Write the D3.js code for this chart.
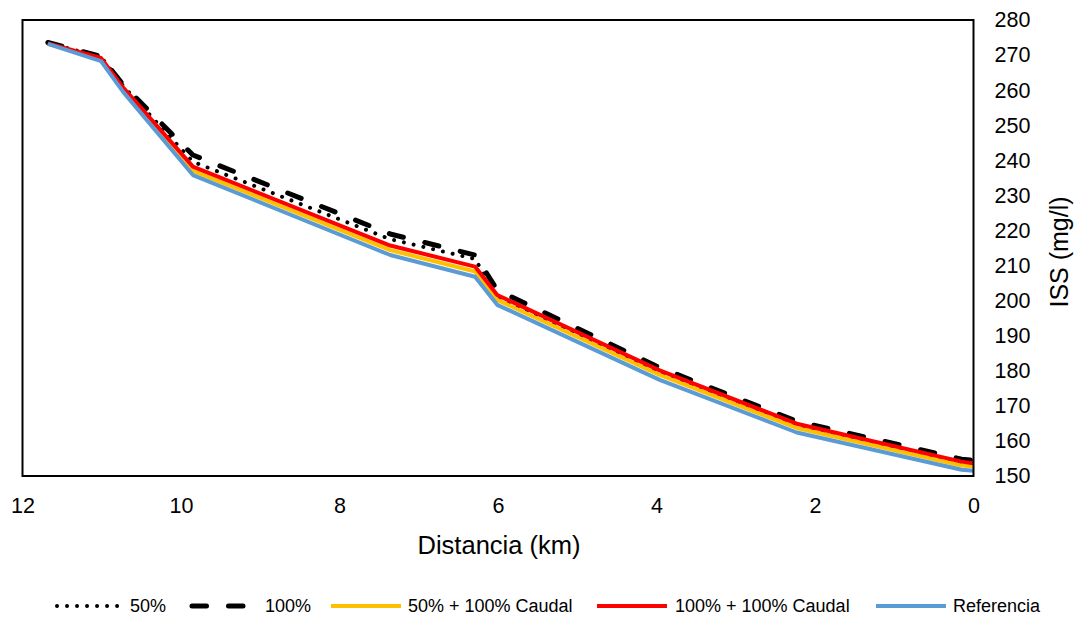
<!DOCTYPE html>
<html>
<head>
<meta charset="utf-8">
<script src="https://cdn.jsdelivr.net/npm/d3@7"></script>
<style>
  body { margin: 0; background: #fff; }
  svg { display: block; font-family: "Liberation Sans", Arial, sans-serif; }
</style>
</head>
<body>
<svg id="chart" width="1080" height="621"></svg>
<script>
// Distance along the river (km) for every cross-section
const km = [11.68, 11.01, 10.73, 9.85, 7.36, 6.29, 6.01, 3.96, 2.23, 0.15, 0.0];

// ISS (mg/l) per scenario
const s50      = [273.4, 269.5, 261.2, 239.6, 217.5, 211.9, 200.9, 179.4, 164.2, 153.4, 153.0];
const s100     = [273.6, 269.6, 261.5, 241.5, 219.0, 213.0, 203.0, 180.9, 165.6, 154.8, 154.5];
const s50Q     = [273.2, 268.7, 260.1, 237.0, 214.4, 208.3, 200.2, 178.8, 163.7, 153.0, 152.7];
const s100Q    = [273.3, 269.2, 260.7, 238.2, 215.7, 209.7, 201.6, 180.1, 164.9, 154.1, 153.6];
const reference = [273.2, 268.3, 259.5, 235.8, 213.0, 206.8, 198.8, 177.4, 162.4, 151.8, 151.5];

const seriesNames = ["50%", "100%", "50% + 100% Caudal", "100% + 100% Caudal", "Referencia"];
const xTicks = [12, 10, 8, 6, 4, 2, 0];
const yTicks = [150, 160, 170, 180, 190, 200, 210, 220, 230, 240, 250, 260, 270, 280];

// Styles per series (same order as seriesNames)
const styles = [
  { color: "#000", width: 4, dash: "0.01 10", cap: "round" },
  { color: "#000", width: 5, dash: "14.5 22", cap: "round" },
  { color: "#FFC000", width: 4, dash: null, cap: "butt" },
  { color: "#FF0000", width: 4, dash: null, cap: "butt" },
  { color: "#5B9BD5", width: 4, dash: null, cap: "butt" }
];

const svg = d3.select("#chart");
const plotL = 22.5, plotR = 973.5, plotT = 20, plotB = 476;

const x = d3.scaleLinear().domain([12, 0]).range([plotL, plotR]);
const y = d3.scaleLinear().domain([150, 280]).range([plotB, plotT]);

// Lines
const values = [s50, s100, s50Q, s100Q, reference];
const line = d3.line()
  .x((d, i) => x(km[i]))
  .y(d => y(d));

const linesG = svg.append("g");
values.forEach((vals, k) => {
  const st = styles[k];
  linesG.append("path")
    .datum(vals)
    .attr("d", line)
    .attr("fill", "none")
    .attr("stroke", st.color)
    .attr("stroke-width", st.width)
    .attr("stroke-linecap", st.cap)
    .attr("stroke-linejoin", "round")
    .attr("stroke-dasharray", st.dash);
});

// Plot frame
svg.append("rect")
  .attr("x", plotL).attr("y", plotT)
  .attr("width", plotR - plotL).attr("height", plotB - plotT)
  .attr("fill", "none")
  .attr("stroke", "#000")
  .attr("stroke-width", 2);

// Bottom axis
const xAxis = d3.axisBottom(x).tickValues(xTicks).tickSize(0).tickPadding(22);
const gx = svg.append("g").attr("transform", `translate(0,${plotB})`).call(xAxis);
gx.select(".domain").remove();
gx.selectAll("text").attr("font-size", 21.5).attr("fill", "#000")
  .attr("font-family", "Liberation Sans, Arial, sans-serif");

// Right axis
const yAxis = d3.axisRight(y).tickValues(yTicks).tickSize(0).tickPadding(21);
const gy = svg.append("g").attr("transform", `translate(${plotR},0)`).call(yAxis);
gy.select(".domain").remove();
gy.selectAll("text").attr("font-size", 21.5).attr("fill", "#000")
  .attr("font-family", "Liberation Sans, Arial, sans-serif");

// Axis titles
svg.append("text")
  .attr("x", 499).attr("y", 554)
  .attr("text-anchor", "middle")
  .attr("font-size", 25.5)
  .text("Distancia (km)");

svg.append("text")
  .attr("transform", `translate(1068,252) rotate(-90)`)
  .attr("text-anchor", "middle")
  .attr("font-size", 25)
  .text("ISS (mg/l)");

// Legend
const legendItems = [
  { x1: 57, x2: 122, tx: 130 },
  { x1: 192, x2: 245, tx: 265 },
  { x1: 331, x2: 401, tx: 408 },
  { x1: 597, x2: 667, tx: 675 },
  { x1: 876, x2: 946, tx: 953 }
];
const ly = 606;
const legend = svg.append("g");
legendItems.forEach((it, k) => {
  const st = styles[k];
  legend.append("line")
    .attr("x1", it.x1).attr("x2", it.x2)
    .attr("y1", ly).attr("y2", ly)
    .attr("stroke", st.color)
    .attr("stroke-width", st.width)
    .attr("stroke-linecap", st.cap)
    .attr("stroke-dasharray", st.dash);
  legend.append("text")
    .attr("x", it.tx).attr("y", ly)
    .attr("dy", "0.35em")
    .attr("font-size", 18)
    .text(seriesNames[k]);
});
</script>
</body>
</html>
